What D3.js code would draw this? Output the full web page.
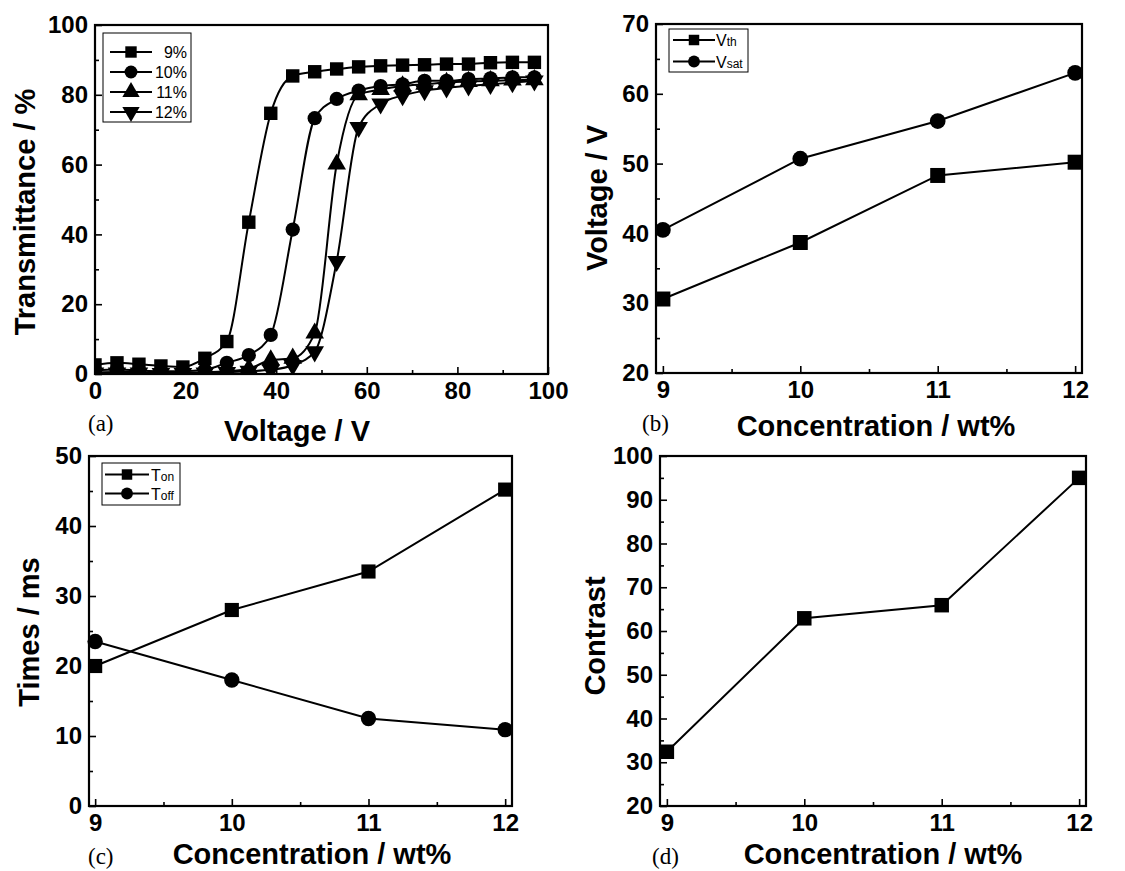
<!DOCTYPE html>
<html>
<head>
<meta charset="utf-8">
<script src="https://cdn.jsdelivr.net/npm/d3@7"></script>
<style>
  body { margin: 0; background: #fff; }
  text { fill: #000; }
</style>
</head>
<body>
<svg id="fig" width="1125" height="871"></svg>
<script>
// ---- data ----
// (a) transmittance vs voltage
const voltage = [0, 4.85, 9.7, 14.55, 19.4, 24.25, 29.1, 33.95, 38.8, 43.65, 48.5, 53.35, 58.2, 63.05, 67.9, 72.75, 77.6, 82.45, 87.3, 92.15, 97.0]
const trans9 = [2.6, 3.2, 2.8, 2.3, 2.0, 4.5, 9.3, 43.5, 74.7, 85.4, 86.6, 87.4, 88.0, 88.3, 88.5, 88.6, 88.8, 88.8, 89.2, 89.3, 89.3]
const trans10 = [1.0, 1.3, 1.0, 0.8, 0.8, 1.2, 3.2, 5.4, 11.2, 41.4, 73.3, 78.8, 81.2, 82.5, 83.0, 84.0, 84.0, 84.5, 84.7, 85.0, 85.0]
const trans11 = [0.5, 0.6, 0.5, 0.4, 0.4, 0.5, 0.8, 1.5, 4.0, 4.5, 11.7, 60.1, 80.0, 81.5, 82.5, 83.0, 83.5, 83.8, 84.0, 84.2, 84.3]
const trans12 = [0.3, 0.3, 0.3, 0.2, 0.2, 0.3, 0.5, 0.8, 1.2, 2.5, 6.4, 32.3, 70.7, 77.4, 79.8, 81.2, 82.0, 82.6, 83.0, 83.5, 84.0]
const transLabels = ['9%', '10%', '11%', '12%']

// (b)-(d) vs concentration
const conc = [9, 10, 11, 12]
const vth = [30.6, 38.7, 48.3, 50.2]
const vsat = [40.5, 50.7, 56.1, 63.0]
const tOn = [20.0, 28.0, 33.5, 45.2]
const tOff = [23.5, 18.0, 12.5, 10.9]
const contrast = [32.4, 62.9, 65.9, 95.0]

// tick values
const voltTicks = [0, 20, 40, 60, 80, 100]
const voltMinor = [10, 30, 50, 70, 90]
const transTicks = [0, 20, 40, 60, 80, 100]
const transMinor = [10, 30, 50, 70, 90]
const concTicks = [9, 10, 11, 12]
const concMinor = [9.5, 10.5, 11.5]
const voltYTicks = [20, 30, 40, 50, 60, 70]
const voltYMinor = [25, 35, 45, 55, 65]
const timeTicks = [0, 10, 20, 30, 40, 50]
const timeMinor = [5, 15, 25, 35, 45]
const contrastTicks = [20, 30, 40, 50, 60, 70, 80, 90, 100]
const contrastMinor = [25, 35, 45, 55, 65, 75, 85, 95]

const svg = d3.select('#fig')
const FONT = "'Liberation Sans', Arial, sans-serif"
const SERIF = "'Liberation Serif', 'Times New Roman', serif"

function marker(type, size) {
  return d3.symbol().type(type).size(size)
}

function drawPanel(p) {
  const x = d3.scaleLinear().domain(p.xDomain).range([p.left, p.right])
  const y = d3.scaleLinear().domain(p.yDomain).range([p.bottom, p.top])
  const g = svg.append('g')

  // minor ticks (inside)
  g.append('g')
    .attr('transform', `translate(0,${p.bottom})`)
    .call(d3.axisBottom(x).tickValues(p.xMinor).tickSize(-4).tickFormat(''))
  g.append('g')
    .attr('transform', `translate(${p.left},0)`)
    .call(d3.axisLeft(y).tickValues(p.yMinor).tickSize(-4).tickFormat(''))

  // major ticks with labels
  g.append('g')
    .attr('transform', `translate(0,${p.bottom})`)
    .call(d3.axisBottom(x).tickValues(p.xTicks).tickFormat(d3.format('d'))
      .tickSizeInner(-7).tickSizeOuter(0).tickPadding(8))
  g.append('g')
    .attr('transform', `translate(${p.left},0)`)
    .call(d3.axisLeft(y).tickValues(p.yTicks).tickFormat(d3.format('d'))
      .tickSizeInner(-7).tickSizeOuter(0).tickPadding(7))

  g.selectAll('.domain').remove()
  g.selectAll('.tick line').attr('stroke', '#000').attr('stroke-width', 1.6)
  g.selectAll('.tick text')
    .style('font-family', FONT)
    .style('font-weight', 'bold')
    .style('font-size', '24px')
    .attr('fill', '#000')

  // clip for data
  const clipId = 'clip-' + p.name
  svg.append('clipPath').attr('id', clipId)
    .append('rect')
    .attr('x', p.left).attr('y', p.top)
    .attr('width', p.right - p.left).attr('height', p.bottom - p.top)

  const dg = svg.append('g').attr('clip-path', p.clip ? `url(#${clipId})` : null)

  p.series.forEach((s) => {
    const pts = s.xs.map((v, i) => [v, s.ys[i]])
    const line = d3.line()
      .x((d) => x(d[0]))
      .y((d) => y(d[1]))
      .curve(s.curve || d3.curveLinear)
    dg.append('path')
      .attr('d', line(pts))
      .attr('fill', 'none')
      .attr('stroke', '#000')
      .attr('stroke-width', 2)
    dg.selectAll(null)
      .data(pts)
      .join('path')
      .attr('d', marker(s.symbol, s.size))
      .attr('transform', (d) => `translate(${x(d[0])},${y(d[1])})${s.flip ? ' rotate(180)' : ''}`)
      .attr('fill', '#000')
  })

  // frame
  svg.append('rect')
    .attr('x', p.left).attr('y', p.top)
    .attr('width', p.right - p.left).attr('height', p.bottom - p.top)
    .attr('fill', 'none')
    .attr('stroke', '#000')
    .attr('stroke-width', 2.2)

  // axis titles
  svg.append('text')
    .attr('x', p.xTitle[0]).attr('y', p.xTitle[1])
    .attr('text-anchor', 'middle')
    .style('font-family', FONT).style('font-weight', 'bold').style('font-size', '29px')
    .text(p.xLabel)
  svg.append('text')
    .attr('transform', `translate(${p.yTitle[0]},${p.yTitle[1]}) rotate(-90)`)
    .attr('text-anchor', 'middle')
    .style('font-family', FONT).style('font-weight', 'bold').style('font-size', '29px')
    .text(p.yLabel)

  // panel tag
  svg.append('text')
    .attr('x', p.tag[0]).attr('y', p.tag[1])
    .style('font-family', SERIF).style('font-size', '23px')
    .text(p.tagText)

  // legend
  if (p.legend) {
    const L = p.legend
    const lg = svg.append('g')
    lg.append('rect')
      .attr('x', L.x).attr('y', L.y).attr('width', L.w).attr('height', L.h)
      .attr('fill', '#fff').attr('stroke', '#000').attr('stroke-width', 1)
    p.series.forEach((s, i) => {
      const cy = L.y + L.first + i * L.step
      lg.append('line')
        .attr('x1', L.x + L.lx1).attr('x2', L.x + L.lx2)
        .attr('y1', cy).attr('y2', cy)
        .attr('stroke', '#000').attr('stroke-width', 1.8)
      lg.append('path')
        .attr('d', marker(s.symbol, L.msize))
        .attr('transform', `translate(${L.x + (L.lx1 + L.lx2) / 2},${cy})${s.flip ? ' rotate(180)' : ''}`)
        .attr('fill', '#000')
      const t = lg.append('text')
        .attr('x', L.x + L.tx).attr('y', cy + 6)
        .attr('text-anchor', L.anchor || 'start')
        .style('font-family', FONT).style('font-size', L.fs + 'px')
      if (s.sub) {
        t.append('tspan').text(s.label)
        t.append('tspan').style('font-size', (L.fs - 4) + 'px').text(s.sub)
      } else {
        t.text(s.label)
      }
    })
  }
}

// (a)
drawPanel({
  name: 'a', left: 95, right: 548, top: 25, bottom: 374,
  xDomain: [0, 100], yDomain: [0, 100],
  xTicks: voltTicks, xMinor: voltMinor, yTicks: transTicks, yMinor: transMinor,
  clip: true,
  series: [
    { xs: voltage, ys: trans9, symbol: d3.symbolSquare, size: 180, curve: d3.curveMonotoneX, label: transLabels[0] },
    { xs: voltage, ys: trans10, symbol: d3.symbolCircle, size: 160, curve: d3.curveMonotoneX, label: transLabels[1] },
    { xs: voltage, ys: trans11, symbol: d3.symbolTriangle, size: 150, curve: d3.curveMonotoneX, label: transLabels[2] },
    { xs: voltage, ys: trans12, symbol: d3.symbolTriangle, size: 150, flip: true, curve: d3.curveMonotoneX, label: transLabels[3] }
  ],
  xLabel: 'Voltage / V', xTitle: [297, 441],
  yLabel: 'Transmittance / %', yTitle: [35, 212],
  tag: [88, 431], tagText: '(a)',
  legend: { x: 103, y: 33, w: 88, h: 89, first: 19, step: 20, lx1: 7, lx2: 49, tx: 84, anchor: 'end', fs: 16, msize: 130 }
})

// (b)
drawPanel({
  name: 'b', left: 656, right: 1082, top: 24, bottom: 373,
  xDomain: [8.95, 12.05], yDomain: [20, 70],
  xTicks: concTicks, xMinor: concMinor, yTicks: voltYTicks, yMinor: voltYMinor,
  series: [
    { xs: conc, ys: vth, symbol: d3.symbolSquare, size: 225, label: 'V', sub: 'th' },
    { xs: conc, ys: vsat, symbol: d3.symbolCircle, size: 195, label: 'V', sub: 'sat' }
  ],
  xLabel: 'Concentration / wt%', xTitle: [876, 436],
  yLabel: 'Voltage / V', yTitle: [607, 198],
  tag: [642, 431], tagText: '(b)',
  legend: { x: 669, y: 29, w: 79, h: 43, first: 11, step: 21.5, lx1: 4, lx2: 46, tx: 47, fs: 16, msize: 110 }
})

// (c)
drawPanel({
  name: 'c', left: 89, right: 512, top: 456, bottom: 806,
  xDomain: [8.955, 12.05], yDomain: [0, 50],
  xTicks: concTicks, xMinor: concMinor, yTicks: timeTicks, yMinor: timeMinor,
  series: [
    { xs: conc, ys: tOn, symbol: d3.symbolSquare, size: 200, label: 'T', sub: 'on' },
    { xs: conc, ys: tOff, symbol: d3.symbolCircle, size: 185, label: 'T', sub: 'off' }
  ],
  xLabel: 'Concentration / wt%', xTitle: [312, 864],
  yLabel: 'Times / ms', yTitle: [39, 632],
  tag: [88, 864], tagText: '(c)',
  legend: { x: 102, y: 463, w: 78, h: 42, first: 11.5, step: 19, lx1: 3, lx2: 47, tx: 49, fs: 16, msize: 110 }
})

// (d)
drawPanel({
  name: 'd', left: 660, right: 1086, top: 456, bottom: 806,
  xDomain: [8.95, 12.05], yDomain: [20, 100],
  xTicks: concTicks, xMinor: concMinor, yTicks: contrastTicks, yMinor: contrastMinor,
  series: [
    { xs: conc, ys: contrast, symbol: d3.symbolSquare, size: 210 }
  ],
  xLabel: 'Concentration / wt%', xTitle: [883, 864],
  yLabel: 'Contrast', yTitle: [605, 636],
  tag: [652, 864], tagText: '(d)'
})
</script>
</body>
</html>
